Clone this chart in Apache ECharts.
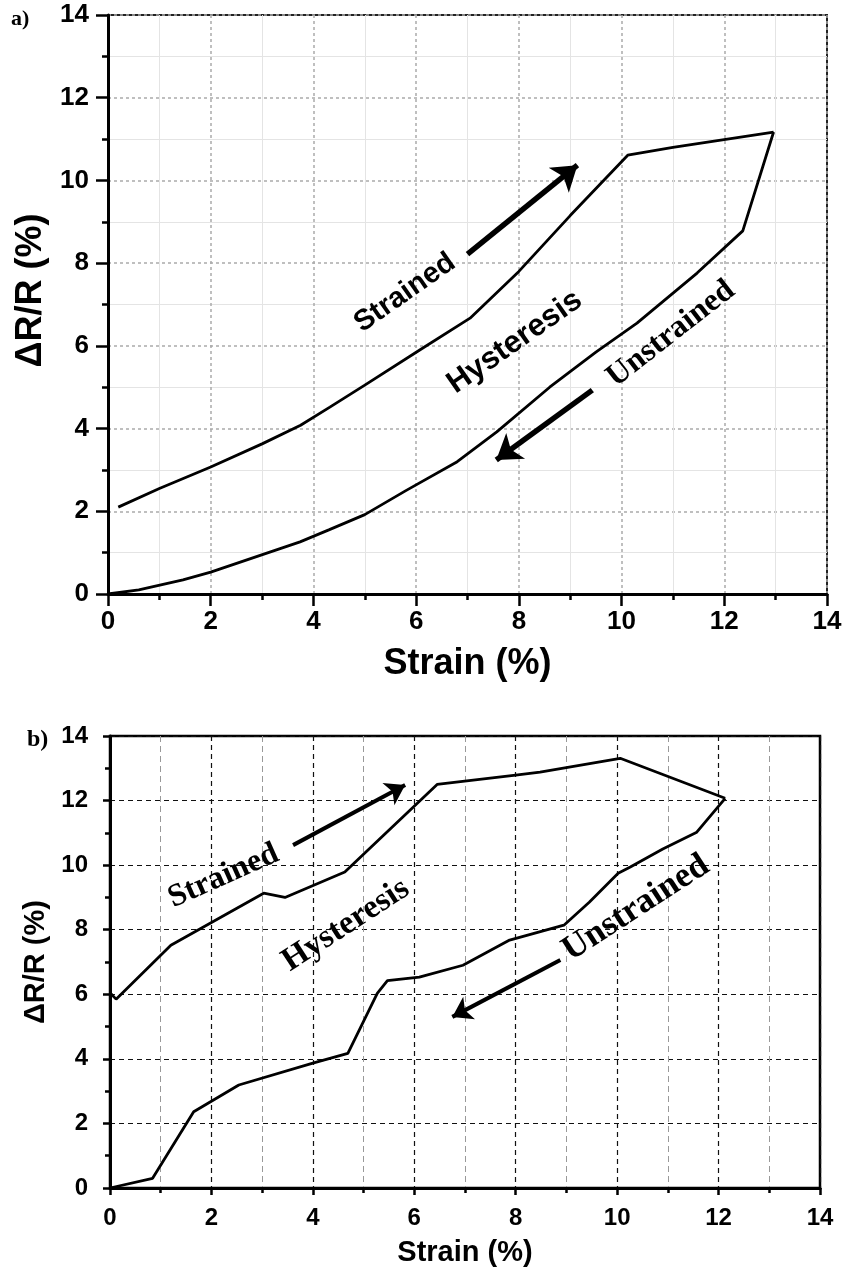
<!DOCTYPE html>
<html><head><meta charset="utf-8">
<script src="https://cdn.jsdelivr.net/npm/echarts@6/dist/echarts.min.js"></script>
<style>html,body{margin:0;padding:0;background:#fff}#c{width:846px;height:1280px}</style>
</head><body><div id="c"></div>
<script>
// ---- data: panel a ----
const strainedA = [[0.2,2.1],[1,2.55],[2,3.07],[3,3.63],[3.75,4.08],[4.32,4.52],[5,5.05],[6.07,5.9],[7.05,6.67],[8,7.8],[9,9.15],[10.12,10.61],[11,10.8],[12.96,11.17]];
const unstrainedA = [[12.96,11.17],[12.36,8.78],[11.47,7.76],[10.3,6.55],[9.5,5.85],[8.6,5.0],[7.57,3.92],[6.8,3.2],[5.8,2.5],[5,1.92],[4.3,1.55],[3.74,1.26],[2,0.53],[1.46,0.34],[0.6,0.1],[0,0]];
const arrowsA = [[[7.0,8.22],[9.14,10.37]], [[9.43,4.93],[7.56,3.24]]];
const labelsA = [
  {name:'Strained', pos:[5.78,7.28], rot:35, serif:false, size:29},
  {name:'Hysteresis', pos:[7.92,6.09], rot:35, serif:false, size:31},
  {name:'Unstrained', pos:[10.96,6.29], rot:38, serif:true, size:32}
];
// ---- data: panel b ----
const strainedB = [[0,6.05],[0.12,5.85],[1.2,7.52],[3.03,9.13],[3.45,9.0],[4.63,9.79],[6.45,12.5],[8.0,12.79],[8.48,12.88],[10.06,13.31],[12.13,12.07]];
const unstrainedB = [[12.13,12.07],[11.57,11.02],[10.9,10.5],[10.26,9.94],[10.02,9.75],[9.45,8.85],[8.95,8.14],[7.88,7.68],[6.96,6.9],[6.1,6.53],[5.47,6.42],[5.27,6.03],[4.69,4.17],[4,3.87],[2.54,3.19],[1.65,2.36],[0.84,0.3],[0,0]];
const arrowsB = [[[3.61,10.62],[5.82,12.48]], [[8.88,7.06],[6.75,5.30]]];
const labelsB = [
  {name:'Strained', pos:[2.24,9.66], rot:24, serif:true, size:32},
  {name:'Hysteresis', pos:[4.65,8.14], rot:33, serif:true, size:33},
  {name:'Unstrained', pos:[10.37,8.67], rot:33, serif:true, size:35}
];
const axisMin = 0, axisMax = 14, axisStep = 2;

const SANS = 'Liberation Sans, Arial, sans-serif';
const SERIF = 'Liberation Serif, Times New Roman, serif';

function xAxisCfg(g, o){
  return {
    gridIndex:g, type:'value', min:axisMin, max:axisMax, interval:axisStep,
    axisLine:{onZero:false, lineStyle:{color:'#000', width:o.axisW}},
    axisTick:{inside:false, length:o.tickLen, lineStyle:{color:'#000', width:2.5}},
    minorTick:{show:true, splitNumber:2, length:o.minorLen, lineStyle:{color:'#000', width:2.5}},
    splitLine:{show:true, lineStyle:o.major},
    minorSplitLine:{show:true, lineStyle:o.minorX},
    axisLabel:{margin:o.xMargin, fontSize:o.lblSize, fontWeight:'bold', color:'#000', fontFamily:SANS},
    name:'Strain (%)', nameLocation:'middle', nameGap:o.xGap,
    nameTextStyle:{fontSize:o.titleSize, fontWeight:'bold', color:'#000', fontFamily:SANS}
  };
}
function yAxisCfg(g, o){
  return {
    gridIndex:g, type:'value', min:axisMin, max:axisMax, interval:axisStep,
    axisLine:{onZero:false, lineStyle:{color:'#000', width:o.axisW}},
    axisTick:{inside:false, length:o.tickLen, lineStyle:{color:'#000', width:2.5}},
    minorTick:{show:true, splitNumber:2, length:o.minorLen, lineStyle:{color:'#000', width:2.5}},
    splitLine:{show:true, lineStyle:o.major},
    minorSplitLine:{show:o.minorY, lineStyle:o.minorX},
    axisLabel:{margin:o.yMargin, fontSize:o.lblSize, fontWeight:'bold', color:'#000', fontFamily:SANS},
    name:'\u0394R/R (%)', nameLocation:'middle', nameGap:o.yGap,
    nameTextStyle:{fontSize:o.yTitleSize, fontWeight:'bold', color:'#000', fontFamily:SANS, padding:o.yPad}
  };
}
const optA = {axisW:3, tickLen:12, minorLen:6, lblSize:26, titleSize:36, yTitleSize:36, xMargin:15, yMargin:19, xGap:52, yGap:45, minorY:true, yPad:[0,0,0,28],
  major:{color:'#aaa', type:[3,3], width:1.5}, minorX:{color:'#e4e4e4', width:1}};
const optB = {axisW:3, tickLen:7, minorLen:5, lblSize:24, titleSize:29, yTitleSize:29, xMargin:18, yMargin:22, xGap:50, yGap:51, minorY:false, yPad:[0,0,0,0],
  major:{color:'#111', type:[5,4], width:1.2}, minorX:{color:'#999', type:[6,4], width:1}};

function curve(g, d){
  return {type:'line', xAxisIndex:g, yAxisIndex:g, data:d, showSymbol:false, symbol:'none', smooth:false,
    lineStyle:{color:'#000', width:2.8}, z:5};
}
function arrows(g, arr, w, head){
  return {type:'lines', coordinateSystem:'cartesian2d', xAxisIndex:g, yAxisIndex:g,
    data:arr.map(c=>({coords:c})), symbol:['none','arrow'], symbolSize:head,
    lineStyle:{color:'#000', width:w, opacity:1, curveness:0}, z:6};
}
function notes(g, lbls){
  return {type:'scatter', xAxisIndex:g, yAxisIndex:g, symbolSize:0, itemStyle:{color:'#000', opacity:1}, z:7,
    data:lbls.map(l=>({name:l.name, value:l.pos, label:{show:true, position:'inside', formatter:'{b}', rotate:l.rot,
      fontSize:l.size, fontWeight:'bold', color:'#000', opacity:1, textBorderWidth:0, textShadowBlur:0, fontFamily:l.serif?SERIF:SANS}})),
    silent:true};
}

const chart = echarts.init(document.getElementById('c'), null, {renderer:'canvas'});
chart.setOption({
  animation:false,
  backgroundColor:'#fff',
  grid:[
    {left:108, top:15, width:719, height:579, show:true, borderColor:'#222', borderWidth:2},
    {left:110, top:736, width:710, height:452, show:true, borderColor:'#000', borderWidth:2.5}
  ],
  xAxis:[xAxisCfg(0, optA), xAxisCfg(1, optB)],
  yAxis:[yAxisCfg(0, optA), yAxisCfg(1, optB)],
  graphic:[
    {type:'text', left:11, top:8, style:{text:'a)', fontSize:22, fontWeight:'bold', fontFamily:SERIF, fill:'#000'}},
    {type:'text', left:27, top:728, style:{text:'b)', fontSize:24, fontWeight:'bold', fontFamily:SERIF, fill:'#000'}}
  ],
  series:[
    curve(0, strainedA), curve(0, unstrainedA), arrows(0, arrowsA, 5.5, 24), notes(0, labelsA),
    curve(1, strainedB), curve(1, unstrainedB), arrows(1, arrowsB, 4, 19), notes(1, labelsB)
  ]
});
</script></body></html>
